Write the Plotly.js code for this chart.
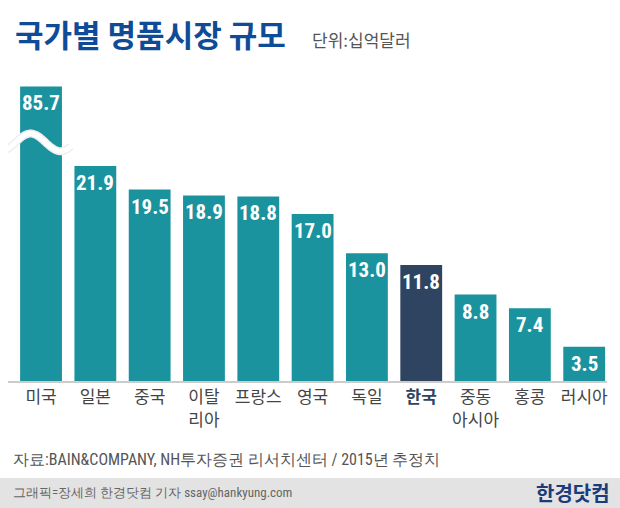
<!DOCTYPE html>
<html>
<head>
<meta charset="utf-8">
<script src="https://cdn.plot.ly/plotly-3.0.1.min.js"></script>
<style>
html,body{margin:0;padding:0;background:#fff;}
#chart{width:620px;height:508px;}
</style>
</head>
<body>
<div id="chart"></div>
<script>
// ---- data ----
const categories = ['미국','일본','중국','이탈리아','프랑스','영국','독일','한국','중동아시아','홍콩','러시아'];
const tickLabels = ['미국','일본','중국','이탈<br>리아','프랑스','영국','독일','<b>한국</b>','중동<br>아시아','홍콩','러시아'];
const values = [85.7, 21.9, 19.5, 18.9, 18.8, 17.0, 13.0, 11.8, 8.8, 7.4, 3.5];
const valueLabels = values.map(v => v.toFixed(1));
const highlightCategory = '한국';
const breakCap = 30; // bars above this value are drawn with an axis break

// ---- styles ----
const TEAL = '#1a939e';
const NAVY = '#2e4460';
const W = 620, H = 508;
const M = {l: 8, r: 13, t: 70, b: 127};
const PW = W - M.l - M.r, PH = H - M.t - M.b;
const px = x => (x - M.l) / PW;
const py = y => (H - M.b - y) / PH;
const KR = '"Noto Sans CJK KR", "Noto Sans", sans-serif';
const NARROW = '"Liberation Sans Narrow", "Roboto Condensed", "Arial Narrow", Roboto, sans-serif';

const shown = values.map(v => Math.min(v, breakCap));
const colors = categories.map(c => c === highlightCategory ? NAVY : TEAL);
const ticks = tickLabels.map((t, i) => categories[i] === highlightCategory
  ? '<span style="color:' + NAVY + '">' + t + '</span>' : t);

const trace = {
  type: 'bar',
  x: categories,
  y: shown,
  marker: {color: colors, line: {width: 0}},
  hoverinfo: 'skip'
};

const annotations = categories.map((c, i) => ({
  x: c, y: shown[i], xref: 'x', yref: 'y',
  text: valueLabels[i], showarrow: false,
  xanchor: 'center', yanchor: 'top', yshift: -3,
  font: {family: NARROW, size: 21, color: '#ffffff', weight: 'bold'}
}));

annotations.push(
  {xref: 'paper', yref: 'paper', x: px(13), y: py(33), xanchor: 'left', yanchor: 'middle',
   text: '<b>국가별 명품시장 규모</b>', showarrow: false,
   font: {family: KR, size: 31, color: '#0f4c97'}},
  {xref: 'paper', yref: 'paper', x: px(310), y: py(39), xanchor: 'left', yanchor: 'middle',
   text: '단위:십억달러', showarrow: false,
   font: {family: KR, size: 17, color: '#555555'}},
  {xref: 'paper', yref: 'paper', x: px(11), y: py(460), xanchor: 'left', yanchor: 'middle',
   text: '자료:BAIN&COMPANY, NH투자증권 리서치센터 / 2015년 추정치', showarrow: false,
   font: {family: NARROW, size: 16, color: '#555555'}},
  {xref: 'paper', yref: 'paper', x: px(11), y: py(492), xanchor: 'left', yanchor: 'middle',
   text: '그래픽=장세희 한경닷컴 기자 ssay@hankyung.com', showarrow: false,
   font: {family: NARROW, size: 13, color: '#666666'}},
  {xref: 'paper', yref: 'paper', x: px(612), y: py(492), xanchor: 'right', yanchor: 'middle',
   text: '<b>한경닷컴</b>', showarrow: false,
   font: {family: KR, size: 20, color: '#1b3b7b'}}
);

// axis-break wave on the first (capped) bar
function wavePath(cx, cy) {
  const pts = [];
  const x0 = cx - 0.66, x1 = cx + 0.55;
  const n = 40;
  for (let k = 0; k <= n; k++) {
    const t = k / n;
    const x = x0 + (x1 - x0) * t;
    const y = cy + 0.9 * Math.sin(Math.PI * (2.2 * t - 0.35));
    pts.push((k === 0 ? 'M' : 'L') + x.toFixed(3) + ',' + y.toFixed(3));
  }
  return pts.join(' ');
}
const breakIdx = values.findIndex(v => v > breakCap);
const shapes = [
  {type: 'rect', xref: 'paper', yref: 'paper', x0: -0.1, x1: 1.1, y0: py(478), y1: py(520),
   fillcolor: '#e3e3e3', line: {width: 0}, layer: 'below'}
];
if (breakIdx >= 0) {
  const p = wavePath(breakIdx, 24.3);
  shapes.push({type: 'path', xref: 'x', yref: 'y', path: p, line: {color: '#eeeeee', width: 8}, layer: 'above'});
  shapes.push({type: 'path', xref: 'x', yref: 'y', path: p, line: {color: '#ffffff', width: 5}, layer: 'above'});
}

const layout = {
  width: W, height: H,
  margin: M,
  paper_bgcolor: '#ffffff', plot_bgcolor: '#ffffff',
  showlegend: false,
  bargap: 0.23,
  xaxis: {
    type: 'category', range: [-0.608, 10.42],
    tickvals: categories, ticktext: ticks,
    showline: true, linecolor: '#cccccc', linewidth: 2,
    showgrid: false, zeroline: false, ticks: '',
    tickfont: {family: KR, size: 17, color: '#444444'},
    fixedrange: true
  },
  yaxis: {
    range: [0, PH / 9.82], visible: false, showgrid: false, zeroline: false, fixedrange: true
  },
  annotations: annotations,
  shapes: shapes
};

Plotly.newPlot('chart', [trace], layout, {displayModeBar: false, staticPlot: true});
</script>
</body>
</html>
